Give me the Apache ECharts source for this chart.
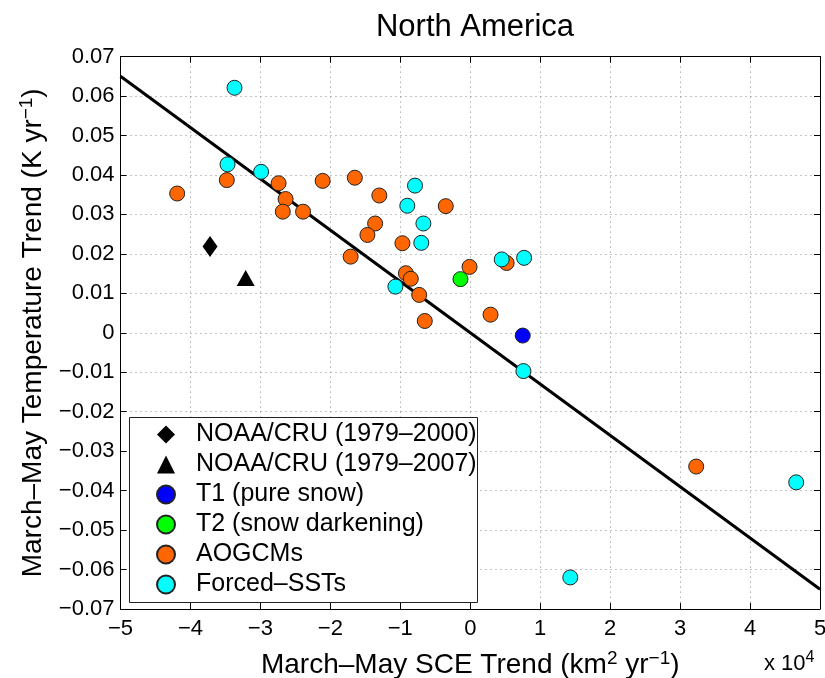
<!DOCTYPE html>
<html>
<head>
<meta charset="utf-8">
<script src="https://cdn.jsdelivr.net/npm/echarts@6/dist/echarts.min.js"></script>
<style>
html,body{margin:0;padding:0;background:#fff;}
#chart{width:825px;height:678px;}
</style>
</head>
<body>
<div id="chart"></div>
<script>
// x values in units of 10^4 km^2 yr^-1, y values in K yr^-1
const noaa2000X = [-3.72];
const noaa2000Y = [0.0219];
const noaa2007X = [-3.21];
const noaa2007Y = [0.0139];
const t1X = [0.75];
const t1Y = [-0.0007];
const t2X = [-0.14];
const t2Y = [0.0136];
const aogcmX = [-4.19,-3.48,-2.74,-2.64,-2.68,-2.39,-2.11,-1.65,-1.30,-1.36,-1.47,-1.71,-0.97,-0.35,-0.92,-0.85,-0.73,-0.65,-0.01,0.52,0.29,3.23];
const aogcmY = [0.0353,0.0387,0.0379,0.0339,0.0307,0.0307,0.0385,0.0393,0.0348,0.0277,0.0248,0.0193,0.0227,0.0321,0.0151,0.0137,0.0096,0.0030,0.0167,0.0177,0.0046,-0.0339];
const sstX = [-3.37,-3.47,-2.99,-0.79,-0.90,-0.67,-0.70,-1.07,0.45,0.77,0.76,1.43,4.66];
const sstY = [0.0621,0.0427,0.0408,0.0373,0.0322,0.0277,0.0228,0.0117,0.0186,0.0190,-0.0097,-0.0620,-0.0379];
const fitX = [-5, 5];
const fitY = [0.065, -0.065];
const xTicks = [-5,-4,-3,-2,-1,0,1,2,3,4,5];
const yTicks = [-0.07,-0.06,-0.05,-0.04,-0.03,-0.02,-0.01,0,0.01,0.02,0.03,0.04,0.05,0.06,0.07];

const zip = (xs, ys) => xs.map((x, i) => [x, ys[i]]);
const FONT = 'Liberation Sans';
const minus = s => String(s).replace('-', '\u2212');

const chart = echarts.init(document.getElementById('chart'), null, {renderer: 'canvas'});
const border = {borderColor: '#222', borderWidth: 1, opacity: 1};

const baseAxis = {
  axisLine: {show: true, onZero: false, lineStyle: {color: '#000', width: 1}},
  axisTick: {show: true, inside: true, length: 6, lineStyle: {color: '#000'}},
};

chart.setOption({
  animation: false,
  backgroundColor: '#fff',
  textStyle: {fontFamily: FONT},
  title: {
    text: 'North America', left: 470, top: 7, textAlign: 'center',
    textStyle: {fontFamily: FONT, fontSize: 31, fontWeight: 'normal', color: '#000'}
  },
  grid: {left: 120.5, right: 5, top: 56.6, bottom: 69, containLabel: false, outerBoundsMode: 'none'},
  xAxis: [{
    type: 'value', min: xTicks[0], max: xTicks[xTicks.length-1], interval: 1,
    ...baseAxis,
    axisLabel: {fontSize: 22, color: '#000', margin: 9, fontFamily: FONT, formatter: v => minus(v)},
    splitLine: {show: true, lineStyle: {color: '#8a8a8a', type: [1, 4], width: 1}},
    name: '{t|March\u2013May SCE Trend (km}{s|2}{t| yr}{s|\u22121}{t|)}',
    nameLocation: 'middle', nameGap: 40,
    nameTextStyle: {rich: {
      t: {fontSize: 28, fontFamily: FONT, color: '#000', verticalAlign: 'bottom', lineHeight: 30},
      s: {fontSize: 19, fontFamily: FONT, color: '#000', verticalAlign: 'top', lineHeight: 30, padding: [0,0,12,0]}
    }}
  }, {
    type: 'value', position: 'top', min: xTicks[0], max: xTicks[xTicks.length-1], interval: 1,
    ...baseAxis, axisLabel: {show: false}, splitLine: {show: false}
  }],
  yAxis: [{
    type: 'value', min: yTicks[0], max: yTicks[yTicks.length-1], interval: 0.01,
    ...baseAxis,
    axisLabel: {fontSize: 22, color: '#000', margin: 6, fontFamily: FONT,
      formatter: v => minus(Math.abs(v) < 1e-9 ? '0' : v.toFixed(2))},
    splitLine: {show: true, lineStyle: {color: '#8a8a8a', type: [1, 4], width: 1}},
    name: '{t|March\u2013May Temperature Trend (K yr}{s|\u22121}{t|)}',
    nameLocation: 'middle', nameGap: 66, nameRotate: 90,
    nameTextStyle: {rich: {
      t: {fontSize: 28, fontFamily: FONT, color: '#000', verticalAlign: 'bottom', lineHeight: 30},
      s: {fontSize: 19, fontFamily: FONT, color: '#000', verticalAlign: 'top', lineHeight: 30, padding: [0,0,12,0]}
    }}
  }, {
    type: 'value', position: 'right', min: yTicks[0], max: yTicks[yTicks.length-1], interval: 0.01,
    ...baseAxis, axisLabel: {show: false}, splitLine: {show: false}
  }],
  legend: {
    orient: 'vertical', left: 156, top: 422, padding: 0, itemGap: 5, z: 120,
    itemWidth: 18, itemHeight: 18,
    textStyle: {fontSize: 25, fontFamily: FONT, color: '#000', lineHeight: 25, padding: [0,0,0,16]},
    data: ['NOAA/CRU (1979\u20132000)', 'NOAA/CRU (1979\u20132007)', 'T1 (pure snow)', 'T2 (snow darkening)', 'AOGCMs', 'Forced\u2013SSTs']
  },
  graphic: [
    {type: 'rect', left: 129, top: 417, z: 50,
     shape: {width: 348, height: 185}, style: {fill: '#fff', stroke: '#222', lineWidth: 1}},
    {type: 'text', left: 764, top: 650, z: 100,
     style: {text: '{t|x 10}{s|4}', rich: {
       t: {fontSize: 22, fontFamily: FONT, fill: '#000', verticalAlign: 'bottom', lineHeight: 25},
       s: {fontSize: 16, fontFamily: FONT, fill: '#000', verticalAlign: 'top', lineHeight: 25, padding: [0,0,10,0]}
     }}}
  ],
  series: [
    {type: 'line', data: zip(fitX, fitY), showSymbol: false, symbol: 'none',
     lineStyle: {color: '#000', width: 3}, z: 3, silent: true},
    {name: 'AOGCMs', type: 'scatter', data: zip(aogcmX, aogcmY), symbol: 'circle', symbolSize: 15,
     itemStyle: {color: '#ff6600', ...border}, z: 4},
    {name: 'Forced\u2013SSTs', type: 'scatter', data: zip(sstX, sstY), symbol: 'circle', symbolSize: 15,
     itemStyle: {color: '#00ffff', ...border}, z: 5},
    {name: 'T2 (snow darkening)', type: 'scatter', data: zip(t2X, t2Y), symbol: 'circle', symbolSize: 15,
     itemStyle: {color: '#00ff00', ...border}, z: 6},
    {name: 'T1 (pure snow)', type: 'scatter', data: zip(t1X, t1Y), symbol: 'circle', symbolSize: 15,
     itemStyle: {color: '#0000ff', ...border}, z: 6},
    {name: 'NOAA/CRU (1979\u20132000)', type: 'scatter', data: zip(noaa2000X, noaa2000Y), symbol: 'diamond', symbolSize: [15, 21],
     itemStyle: {color: '#000', opacity: 1}, z: 6},
    {name: 'NOAA/CRU (1979\u20132007)', type: 'scatter', data: zip(noaa2007X, noaa2007Y), symbol: 'triangle', symbolSize: [18, 16],
     itemStyle: {color: '#000', opacity: 1}, z: 6}
  ]
});
</script>
</body>
</html>
